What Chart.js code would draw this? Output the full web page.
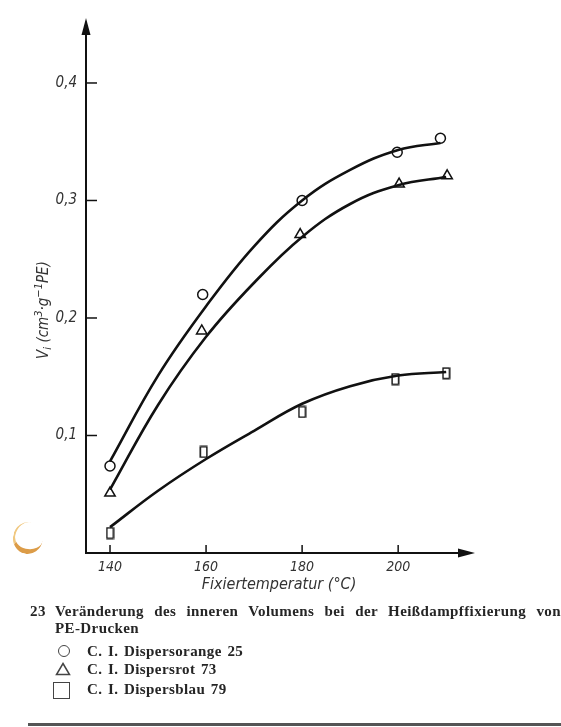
<!DOCTYPE html>
<html>
<head>
<meta charset="utf-8">
<script src="https://cdn.jsdelivr.net/npm/chart.js@4"></script>
<style>
  body { margin: 0; background: #fff; }
  #wrap { position: relative; width: 561px; height: 727px; overflow: hidden; }
  #chart { position: absolute; left: 0; top: 0; }
  .cap { position: absolute; font-family: "Liberation Serif", "DejaVu Serif", serif; font-weight: bold; font-size: 15px; line-height: 18px; letter-spacing: 0.4px; color: #252525; white-space: nowrap; }
  .just { text-align: justify; text-align-last: justify; white-space: normal; }
  .sym { position: absolute; box-sizing: border-box; border: 1.6px solid #444; }
  .rule { position: absolute; left: 28px; top: 723px; width: 540px; height: 3px; background: #555; }
  .spot { position: absolute; left: 13px; top: 522px; width: 28px; height: 27px; border-radius: 50%; border-bottom: 5px solid #dc9c48; border-left: 2px solid #f0c880; transform: rotate(12deg); }
</style>
</head>
<body>
<div id="wrap">
  <canvas id="chart" width="561" height="727"></canvas>
  <div class="spot"></div>
  <div class="cap" style="left:30px; top:602px;">23</div>
  <div class="cap just" style="left:55px; top:602px; width:506px;">Veränderung des inneren Volumens bei der Heißdampffixierung von</div>
  <div class="cap" style="left:55px; top:619px;">PE-Drucken</div>
  <div class="sym" style="left:58px; top:645px; width:12px; height:12px; border-radius:50%;"></div>
  <div class="cap" style="left:87px; top:642px; word-spacing:1.5px;">C. I. Dispersorange 25</div>
  <svg class="sym" style="left:55px; top:662px; border:none;" width="16" height="14"><polygon points="8,1.5 14.5,12.5 1.5,12.5" fill="none" stroke="#444" stroke-width="1.5"/></svg>
  <div class="cap" style="left:87px; top:660px; word-spacing:1.5px;">C. I. Dispersrot 73</div>
  <div class="sym" style="left:53px; top:682px; width:17px; height:17px;"></div>
  <div class="cap" style="left:87px; top:680px; word-spacing:1.5px;">C. I. Dispersblau 79</div>
  <div class="rule"></div>
</div>
<script>
// fitted curves
const orangeCurveTemps = [140, 150, 160, 170, 180, 190, 200, 208.8];
const orangeCurve = [0.078, 0.151, 0.210, 0.261, 0.300, 0.326, 0.343, 0.349];
const rotCurveTemps = [140, 150, 160, 170, 180, 190, 200, 210];
const rotCurve = [0.054, 0.126, 0.184, 0.230, 0.269, 0.297, 0.313, 0.320];
const blauCurveTemps = [140, 150, 160, 170, 180, 190, 200, 210];
const blauCurve = [0.022, 0.053, 0.080, 0.104, 0.127, 0.142, 0.151, 0.154];

// measured points
const orangeTemps = [140, 159.3, 180, 199.8, 208.8];
const orangeValues = [0.074, 0.220, 0.300, 0.341, 0.353];
const rotTemps = [140, 159.1, 179.6, 200.2, 210.2];
const rotValues = [0.051, 0.189, 0.271, 0.314, 0.321];
const blauTemps = [140, 159.5, 180, 199.4, 210];
const blauValues = [0.017, 0.086, 0.120, 0.148, 0.153];

const xTicks = [140, 160, 180, 200];
const yTicks = [0.1, 0.2, 0.3, 0.4];
const xTitle = "Fixiertemperatur (°C)";

const fontFamily = "'DejaVu Sans Condensed', 'Liberation Sans Narrow', sans-serif";
const yTickFont = { family: fontFamily, size: 15, style: "italic" };
const xTickFont = { family: fontFamily, size: 14, style: "italic" };

const toPoints = (xs, ys) => xs.map((x, i) => ({ x: x, y: ys[i] }));

// narrow upright rectangle like the printed square marks
const rectMark = document.createElement("canvas");
rectMark.width = 9;
rectMark.height = 13;
const rc = rectMark.getContext("2d");
rc.fillStyle = "#fff";
rc.fillRect(1, 1, 7, 11);
rc.strokeStyle = "#111";
rc.lineWidth = 1.5;
rc.strokeRect(1.25, 1.25, 6.5, 10.5);

const curve = (xs, ys) => ({
    data: toPoints(xs, ys),
    showLine: true,
    borderColor: "#111",
    borderWidth: 2.6,
    pointRadius: 0,
    tension: 0.4,
    fill: false
});

const marks = (xs, ys, style, r) => ({
    data: toPoints(xs, ys),
    showLine: false,
    pointStyle: style,
    pointRadius: r,
    pointBackgroundColor: "#fff",
    pointBorderColor: "#111",
    pointBorderWidth: 1.5
});

// axes with arrow heads, inner tick marks and the axis titles
const axesPlugin = {
    id: "axesPlugin",
    afterDraw(chart) {
        const { ctx, chartArea, scales } = chart;
        const x0 = chartArea.left, y0 = chartArea.bottom;
        ctx.save();
        ctx.strokeStyle = "#111";
        ctx.fillStyle = "#111";
        ctx.lineWidth = 2;
        ctx.beginPath();
        ctx.moveTo(x0, chartArea.top + 10);
        ctx.lineTo(x0, y0);
        ctx.lineTo(chartArea.right - 10, y0);
        ctx.stroke();

        ctx.beginPath();
        ctx.moveTo(x0, chartArea.top);
        ctx.lineTo(x0 - 4.5, chartArea.top + 17);
        ctx.lineTo(x0 + 4.5, chartArea.top + 17);
        ctx.closePath();
        ctx.fill();
        ctx.beginPath();
        ctx.moveTo(chartArea.right, y0);
        ctx.lineTo(chartArea.right - 17, y0 - 4.5);
        ctx.lineTo(chartArea.right - 17, y0 + 4.5);
        ctx.closePath();
        ctx.fill();

        ctx.lineWidth = 1.5;
        yTicks.forEach(v => {
            const py = scales.y.getPixelForValue(v);
            ctx.beginPath();
            ctx.moveTo(x0, py);
            ctx.lineTo(x0 + 11, py);
            ctx.stroke();
        });
        xTicks.forEach(v => {
            const px = scales.x.getPixelForValue(v);
            ctx.beginPath();
            ctx.moveTo(px, y0);
            ctx.lineTo(px, y0 - 8);
            ctx.stroke();
        });

        ctx.fillStyle = "#333";
        ctx.textBaseline = "middle";
        ctx.textAlign = "center";
        ctx.font = "italic 16px " + fontFamily;
        ctx.fillText(xTitle, (chartArea.left + chartArea.right) / 2 - 1.5, y0 + 32);

        // V_i (cm^3·g^-1 PE), rotated
        const parts = [
            { t: "V", s: 15, dy: 0 },
            { t: "i", s: 11, dy: 4 },
            { t: " (cm", s: 15, dy: 0 },
            { t: "3", s: 11, dy: -5 },
            { t: "·g", s: 15, dy: 0 },
            { t: "−1", s: 11, dy: -5 },
            { t: "PE)", s: 15, dy: 0 }
        ];
        let total = 0;
        parts.forEach(p => {
            ctx.font = "italic " + p.s + "px " + fontFamily;
            p.w = ctx.measureText(p.t).width;
            total += p.w;
        });
        ctx.translate(44, 310);
        ctx.rotate(-Math.PI / 2);
        ctx.textAlign = "left";
        let cx = -total / 2;
        parts.forEach(p => {
            ctx.font = "italic " + p.s + "px " + fontFamily;
            ctx.fillText(p.t, cx, p.dy);
            cx += p.w;
        });
        ctx.restore();
    }
};

new Chart(document.getElementById("chart"), {
    type: "scatter",
    data: {
        datasets: [
            curve(orangeCurveTemps, orangeCurve),
            curve(rotCurveTemps, rotCurve),
            curve(blauCurveTemps, blauCurve),
            marks(orangeTemps, orangeValues, "circle", 5),
            marks(rotTemps, rotValues, "triangle", 6),
            marks(blauTemps, blauValues, rectMark, 6)
        ]
    },
    options: {
        responsive: false,
        animation: false,
        layout: { padding: { left: 0, top: 8, right: 86, bottom: 144 } },
        plugins: { legend: { display: false }, tooltip: { enabled: false } },
        scales: {
            x: {
                type: "linear",
                min: 135,
                max: 216,
                afterBuildTicks: scale => { scale.ticks = xTicks.map(v => ({ value: v })); },
                afterFit: scale => { scale.height = 30; },
                grid: { display: false, drawTicks: false },
                border: { display: false },
                ticks: { font: xTickFont, color: "#333", padding: 6, maxRotation: 0 }
            },
            y: {
                type: "linear",
                min: 0,
                max: 0.4553,
                afterBuildTicks: scale => { scale.ticks = yTicks.map(v => ({ value: v })); },
                afterFit: scale => { scale.width = 86; },
                grid: { display: false, drawTicks: false },
                border: { display: false },
                ticks: {
                    font: yTickFont,
                    color: "#333",
                    padding: 9,
                    callback: v => v.toFixed(1).replace(".", ",")
                }
            }
        }
    },
    plugins: [axesPlugin]
});
</script>
</body>
</html>
